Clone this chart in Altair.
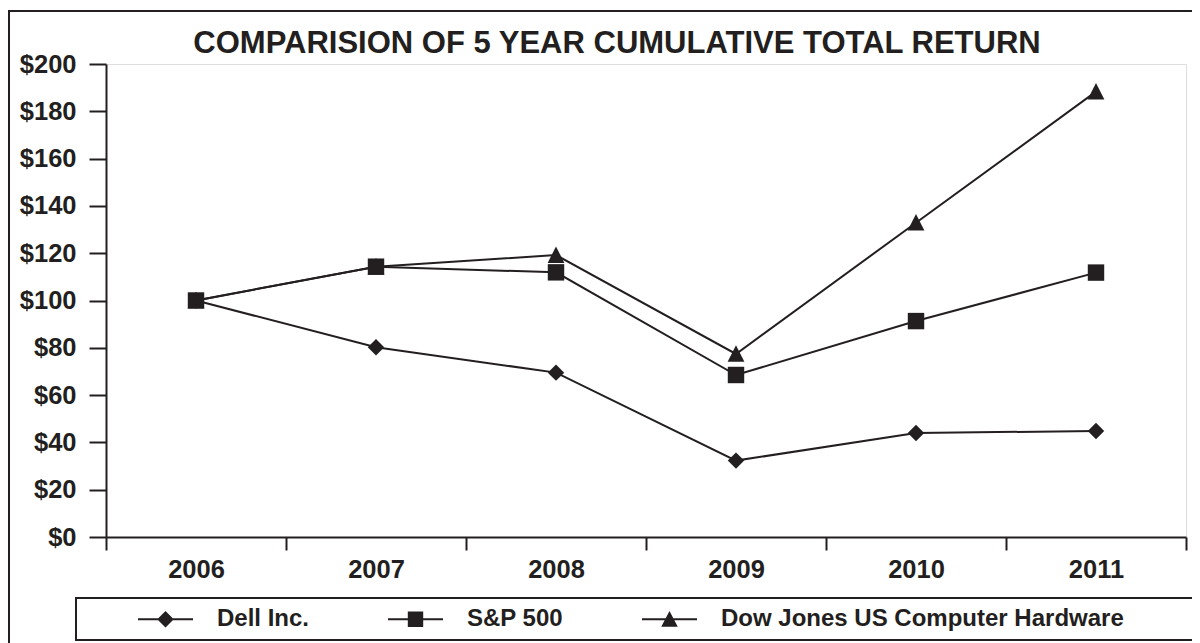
import altair as alt
import pandas as pd

years = ["2006", "2007", "2008", "2009", "2010", "2011"]
series_names = ["Dell Inc.", "S&P 500", "Dow Jones US Computer Hardware"]
dell = [100, 80.2, 69.5, 32.3, 44.0, 44.8]
sp500 = [100, 114.3, 111.9, 68.5, 91.3, 111.8]
dj_hw = [100, 114.3, 119.2, 77.4, 132.9, 188.3]
y_ticks = [0, 20, 40, 60, 80, 100, 120, 140, 160, 180, 200]
title_text = "COMPARISION OF 5 YEAR CUMULATIVE TOTAL RETURN"

rows = []
for name, vals in zip(series_names, [dell, sp500, dj_hw]):
    for yr, v in zip(years, vals):
        rows.append({"year": yr, "series": name, "value": v})
df = pd.DataFrame(rows)

INK = "#231f20"
FONT = "Liberation Sans"

X = alt.X("year:O", title=None,
          scale=alt.Scale(type="band", domain=years, paddingInner=0, paddingOuter=0),
          axis=alt.Axis(labelAngle=0, tickBand="extent", tickSize=13, tickWidth=2,
                        tickColor=INK, domainColor=INK, domainWidth=2,
                        labelFont=FONT, labelFontSize=25.5, labelFontWeight="bold",
                        labelColor=INK, labelPadding=7, grid=False))
Y = alt.Y("value:Q", title=None,
          scale=alt.Scale(domain=[0, 200], nice=False),
          axis=alt.Axis(values=y_ticks, labelExpr="'$' + datum.value", tickSize=17,
                        tickWidth=2, tickColor=INK, domainColor=INK, domainWidth=2,
                        labelFont=FONT, labelFontSize=25.5, labelFontWeight="bold",
                        labelColor=INK, labelPadding=13, grid=False))

frame = alt.Chart(alt.Data(values=[{}])).mark_rect(
    fill="white", fillOpacity=0, stroke=INK, strokeWidth=2).encode(
    x=alt.value(-97), x2=alt.value(1110), y=alt.value(-53), y2=alt.value(600))
legend_box = alt.Chart(alt.Data(values=[{}])).mark_rect(
    fill="white", stroke=INK, strokeWidth=2).encode(
    x=alt.value(-30), x2=alt.value(1110), y=alt.value(534), y2=alt.value(576))
title = alt.Chart(alt.Data(values=[{}])).mark_text(
    text=title_text, font=FONT, fontSize=31, fontWeight="bold", color=INK,
    align="center", baseline="alphabetic").encode(
    x=alt.value(511), y=alt.value(-11))

marker_paths = [
    "M0,-1L1,0L0,1L-1,0Z",
    "M-1,-1H1V1H-1Z",
    "M0,-1.05L1.02,0.95H-1.02Z",
]

base = alt.Chart(df)
lines = base.mark_line(color=INK, strokeWidth=2).encode(x=X, y=Y, detail="series:N")
points = base.mark_point(filled=True, size=270, opacity=1, color=INK).encode(
    x=X, y=Y,
    shape=alt.Shape("series:N", legend=None,
                    scale=alt.Scale(domain=series_names, range=marker_paths)))

leg_paths = [
    "M-1,-0.036H1V0.036H-1ZM0,-0.3L0.3,0L0,0.3L-0.3,0Z",
    "M-1,-0.036H1V0.036H-1ZM-0.28,-0.28H0.28V0.28H-0.28Z",
    "M-1,-0.036H1V0.036H-1ZM0,-0.3L0.3,0.27H-0.3Z",
]
legend_layer = base.mark_point(filled=True, opacity=0, color=INK).encode(
    x=X, y=Y,
    shape=alt.Shape("series:N",
                    scale=alt.Scale(domain=series_names, range=leg_paths),
                    legend=alt.Legend(title=None, orient="none", legendX=32, legendY=527.5,
                                      direction="horizontal", symbolSize=3025,
                                      symbolOpacity=1, symbolFillColor=INK,
                                      symbolStrokeWidth=0,
                                      labelFont=FONT, labelFontSize=24,
                                      labelFontWeight="bold", labelColor=INK,
                                      labelOffset=24, columnPadding=78, padding=0,
                                      labelLimit=0)))

chart = alt.layer(frame, legend_box, title, lines, points, legend_layer).resolve_scale(
    shape="independent"
).properties(
    width=1080, height=473,
    autosize=alt.AutoSizeParams(type="none"),
    padding={"left": 98, "top": 56, "right": 6, "bottom": 106},
).configure_view(stroke=None).configure(background="white")

chart.save("out.html", embed_options={"renderer": "svg", "actions": False})
